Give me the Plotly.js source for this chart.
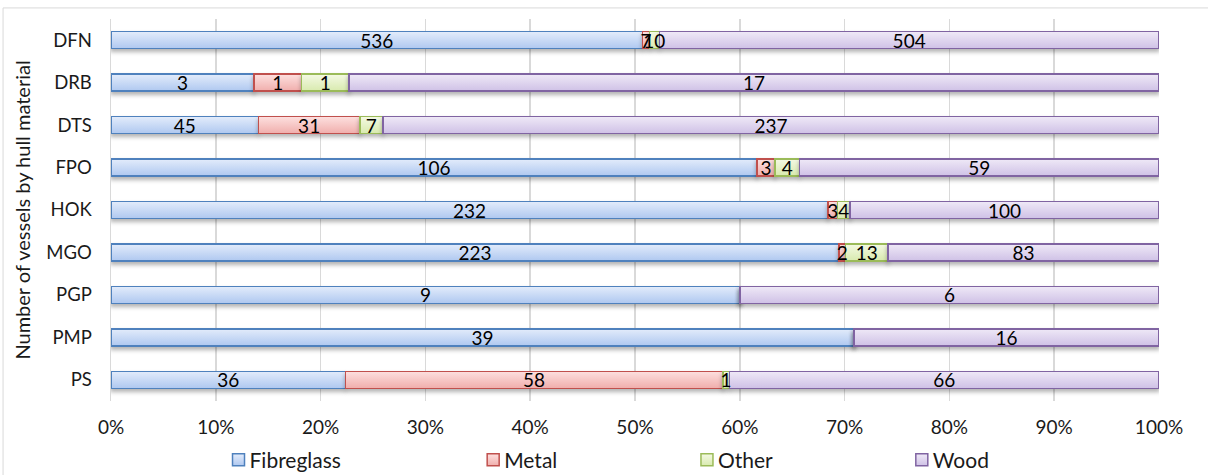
<!DOCTYPE html>
<html>
<head>
<meta charset="utf-8">
<script src="https://cdn.plot.ly/plotly-3.0.1.min.js"></script>
<style>
  html, body { margin: 0; padding: 0; background: #ffffff; }
  #chart { width: 1208px; height: 475px; }
  .trace.bars .point path { filter: drop-shadow(0px 3px 2px rgba(0,0,0,0.3)); }
</style>
</head>
<body>
<div id="chart"></div>
<script>
// Survey areas (top to bottom)
const categories = ['DFN', 'DRB', 'DTS', 'FPO', 'HOK', 'MGO', 'PGP', 'PMP', 'PS'];

// Vessel counts per hull material
const fibreglass = [536, 3, 45, 106, 232, 223, 9, 39, 36];
const metal      = [7, 1, 31, 3, 3, 2, 0, 0, 58];
const other      = [10, 1, 7, 4, 4, 13, 0, 0, 1];
const wood       = [504, 17, 237, 59, 100, 83, 6, 16, 66];

const seriesNames = ['Fibreglass', 'Metal', 'Other', 'Wood'];
const seriesValues = [fibreglass, metal, other, wood];

// Fill (top / bottom of gradient) and outline per material
const fillTop    = ['#e3ecfb', '#fde0df', '#f4f9e4', '#efe9f7'];
const fillBottom = ['#afc8f0', '#f0aeac', '#d8eaae', '#cfc1e6'];
const fillMid    = ['#c8daf5', '#f8c9c8', '#e8f2cd', '#e0d6f0'];
const outline    = ['#4f81bd', '#c0504d', '#9bbb59', '#8064a2'];

const FONT = 'Lato, "Open Sans", sans-serif';
const TXT = '#1a1a1a';

const legendNames = ['legend', 'legend2', 'legend3', 'legend4'];
const legendX = [0.094, 0.337, 0.541, 0.746];

const traces = seriesNames.map((name, i) => ({
  type: 'bar',
  orientation: 'h',
  name: name,
  y: categories,
  x: seriesValues[i],
  text: seriesValues[i].map(v => (v > 0 ? String(v) : '')),
  texttemplate: '%{text}',
  textposition: 'inside',
  insidetextanchor: 'middle',
  constraintext: 'none',
  textangle: 0,
  textfont: { family: FONT, size: 19, color: '#000000' },
  marker: { color: fillMid[i], line: { color: outline[i], width: 1.5 } },
  legend: legendNames[i],
  hoverinfo: 'skip'
}));

const legendLayout = {};
legendNames.forEach((ln, i) => {
  legendLayout[ln] = {
    x: legendX[i], xanchor: 'left',
    y: -0.155, yanchor: 'middle',
    orientation: 'h',
    bgcolor: 'rgba(0,0,0,0)',
    font: { family: FONT, size: 21, color: TXT },
    itemwidth: 30
  };
});

const layout = Object.assign({
  width: 1208,
  height: 475,
  margin: { l: 111, r: 49, t: 19, b: 74, autoexpand: false },
  paper_bgcolor: '#ffffff',
  plot_bgcolor: '#ffffff',
  barmode: 'stack',
  barnorm: 'percent',
  bargap: 0.6,
  showlegend: true,
  font: { family: FONT, size: 19, color: TXT },
  xaxis: {
    range: [0, 100],
    dtick: 10,
    ticksuffix: '%',
    showgrid: true,
    gridcolor: '#d9d9d9',
    gridwidth: 1.5,
    zeroline: false,
    showline: false,
    ticks: '',
    ticklabelstandoff: 13,
    tickfont: { family: FONT, size: 19, color: TXT },
    fixedrange: true
  },
  yaxis: {
    type: 'category',
    autorange: 'reversed',
    showgrid: false,
    zeroline: false,
    showline: true,
    linecolor: '#d9d9d9',
    linewidth: 1.5,
    ticks: '',
    ticklabelstandoff: 14,
    tickfont: { family: FONT, size: 18.5, color: TXT },
    title: { text: 'Number of vessels by hull material', font: { family: FONT, size: 20, color: TXT }, standoff: 10 },
    fixedrange: true
  },
  shapes: [{
    type: 'rect', xref: 'paper', yref: 'paper',
    x0: -0.103, x1: 1.06, y0: -0.25, y1: 1.029,
    line: { color: '#d9d9d9', width: 1 },
    fillcolor: 'rgba(0,0,0,0)',
    layer: 'below'
  }]
}, legendLayout);

const gd = document.getElementById('chart');
Plotly.newPlot(gd, traces, layout, { displayModeBar: false, staticPlot: true }).then(() => {
  const svg = gd.querySelector('svg.main-svg');
  const NS = 'http://www.w3.org/2000/svg';

  // vertical gradient fills for the bar segments and legend swatches
  let defs = svg.querySelector('defs');
  if (!defs) { defs = document.createElementNS(NS, 'defs'); svg.insertBefore(defs, svg.firstChild); }
  seriesNames.forEach((name, i) => {
    const g = document.createElementNS(NS, 'linearGradient');
    g.setAttribute('id', 'hullgrad' + i);
    g.setAttribute('x1', '0'); g.setAttribute('y1', '0');
    g.setAttribute('x2', '0'); g.setAttribute('y2', '1');
    [[0, fillTop[i]], [1, fillBottom[i]]].forEach(([o, c]) => {
      const s = document.createElementNS(NS, 'stop');
      s.setAttribute('offset', o);
      s.setAttribute('stop-color', c);
      g.appendChild(s);
    });
    defs.appendChild(g);
  });
  gd.querySelectorAll('.barlayer .trace.bars').forEach((t, i) => {
    t.querySelectorAll('.point path').forEach(p => { p.style.fill = 'url(#hullgrad' + i + ')'; });
  });

  // legend swatches sit right next to their labels
  gd.querySelectorAll('g.legendpoints').forEach((lp, i) => {
    lp.setAttribute('transform', 'translate(9,0)');
    lp.querySelectorAll('path').forEach(p => { p.style.fill = 'url(#hullgrad' + (i % 4) + ')'; });
  });

  // keep every value label above all bar segments
  const barlayer = gd.querySelector('.barlayer');
  const labelLayer = document.createElementNS(NS, 'g');
  labelLayer.setAttribute('class', 'value-labels');
  gd.querySelectorAll('.barlayer .trace.bars text.bartext').forEach(t => labelLayer.appendChild(t));
  barlayer.appendChild(labelLayer);
});
</script>
</body>
</html>
